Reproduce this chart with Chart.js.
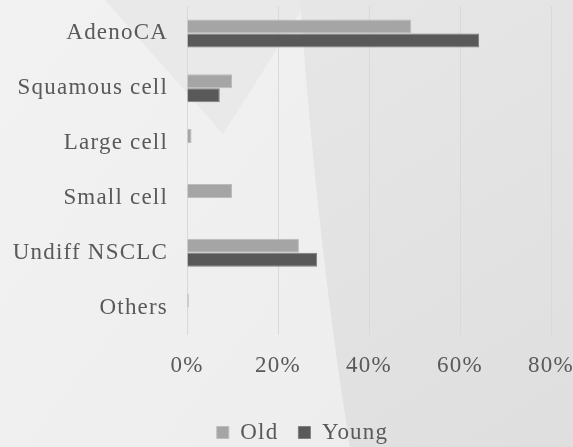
<!DOCTYPE html>
<html>
<head>
<meta charset="utf-8">
<script src="https://cdn.jsdelivr.net/npm/chart.js@4/dist/chart.umd.min.js"></script>
<style>
  html, body { margin: 0; padding: 0; background: #efefef; }
  #wrap { width: 573px; height: 447px; }
</style>
</head>
<body>
<div id="wrap"><canvas id="c" width="573" height="447"></canvas></div>
<script>
// Histological type distribution, percent of patients
const categories = ['AdenoCA', 'Squamous cell', 'Large cell', 'Small cell', 'Undiff NSCLC', 'Others'];
const oldValues = [49.3, 9.9, 1.0, 9.9, 24.6, 0.4];
const youngValues = [64.2, 7.2, 0, 0, 28.6, 0];
const seriesNames = ['Old', 'Young'];
const xTicks = [0, 20, 40, 60, 80];

const TEXT = '#595959';
const FONT = { family: '"Liberation Serif", "Times New Roman", serif', size: 23 };
const SPACING = '1.2px';
const LEGEND_SHIFT = 27;

// Soft grey backdrop with a hanging wedge and a darker right-hand panel
const backdrop = {
  id: 'backdrop',
  beforeUpdate(chart) { chart.ctx.letterSpacing = SPACING; },
  afterLayout(chart) {
    // nudge the legend row to the right of the canvas centre
    chart.legend.left += LEGEND_SHIFT;
    chart.legend.right += LEGEND_SHIFT;
  },
  beforeDraw(chart) {
    const { ctx, width: w, height: h } = chart;
    ctx.save();
    const base = ctx.createLinearGradient(0, 0, w, h);
    base.addColorStop(0, '#f2f2f2');
    base.addColorStop(1, '#ececec');
    ctx.fillStyle = base;
    ctx.fillRect(0, 0, w, h);

    // wedge hanging from the top edge
    ctx.beginPath();
    ctx.moveTo(105, 0);
    ctx.lineTo(308, 0);
    ctx.lineTo(223, 134);
    ctx.closePath();
    ctx.fillStyle = '#e9e9e9';
    ctx.fill();

    // darker right-hand panel
    const dark = ctx.createLinearGradient(300, 0, w, h);
    dark.addColorStop(0, '#e6e6e6');
    dark.addColorStop(1, '#dfdfdf');
    ctx.beginPath();
    ctx.moveTo(300, 0);
    ctx.quadraticCurveTo(318, 250, 350, h);
    ctx.lineTo(w, h);
    ctx.lineTo(w, 0);
    ctx.closePath();
    ctx.fillStyle = dark;
    ctx.fill();
    ctx.restore();
    ctx.letterSpacing = SPACING;
  }
};

new Chart(document.getElementById('c'), {
  type: 'bar',
  data: {
    labels: categories,
    datasets: [
      { label: seriesNames[0], data: oldValues, backgroundColor: '#a5a5a5', borderColor: '#bcbcbc', borderWidth: 1 },
      { label: seriesNames[1], data: youngValues, backgroundColor: '#595959', borderColor: '#7e7e7e', borderWidth: 1 }
    ]
  },
  options: {
    indexAxis: 'y',
    responsive: false,
    devicePixelRatio: 1,
    animation: false,
    layout: { padding: { left: 0, right: 22, top: 6, bottom: -7 } },
    datasets: { bar: { categoryPercentage: 0.512, barPercentage: 1 } },
    scales: {
      x: {
        min: xTicks[0],
        max: xTicks[xTicks.length - 1],
        afterBuildTicks(scale) { scale.ticks = xTicks.map(v => ({ value: v })); },
        afterFit(scale) { scale.height = 66; scale.paddingLeft = 0; scale.paddingRight = 0; },
        grid: { color: '#d9d9d9', lineWidth: 1, drawTicks: false },
        border: { display: false },
        ticks: { color: TEXT, font: FONT, padding: 17, callback: v => v + '%' }
      },
      y: {
        afterFit(scale) { scale.width = 187; scale.paddingTop = 0; scale.paddingBottom = 0; },
        grid: { display: false, drawTicks: false },
        border: { display: false },
        ticks: { color: TEXT, font: FONT, padding: 19 }
      }
    },
    plugins: {
      legend: {
        position: 'bottom',
        labels: { color: TEXT, font: FONT, boxWidth: 12, boxHeight: 12, padding: 20 }
      },
      tooltip: { enabled: false }
    }
  },
  plugins: [backdrop]
});
</script>
</body>
</html>
